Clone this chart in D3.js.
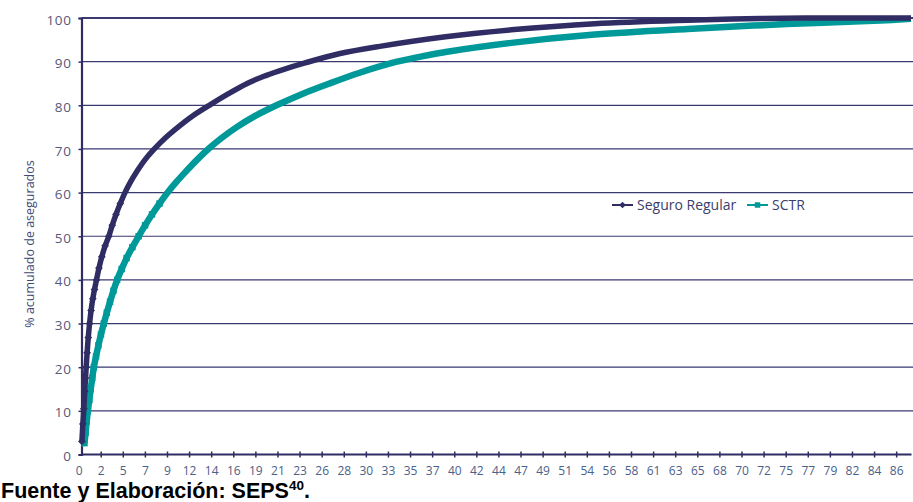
<!DOCTYPE html>
<html>
<head>
<meta charset="utf-8">
<script src="https://cdn.jsdelivr.net/npm/d3@7"></script>
<style>
  html, body { margin: 0; padding: 0; background: #fff; }
  svg { display: block; }
</style>
</head>
<body>
<svg id="chart" width="913" height="502"></svg>
<script>
// ---- data ----
const seriesNames = ["Seguro Regular", "SCTR"];
const seguroX = [0.35, 0.45, 0.55, 0.65, 0.73, 0.8, 0.9, 1.02, 1.16, 1.32, 1.5, 1.68, 1.89, 2.15, 2.45, 2.8, 3.19, 3.55, 3.95, 4.4, 4.9, 5.5, 6.2, 7.0, 8.0, 9.15, 10.5, 12.0, 13.8, 15.7, 17.8, 19.5, 21.2, 23.9, 27.5, 31.8, 38.75, 45.7, 54.5, 64.3, 72.0, 80.0, 87.9];
const seguroY = [3, 7, 10.5, 14.5, 17.5, 20, 23.3, 26.8, 30, 33, 35.7, 37.8, 40, 42.7, 45.3, 47.8, 50, 52.5, 55, 57.5, 60, 62.5, 65, 67.5, 70, 72.5, 75, 77.5, 80, 82.5, 85, 86.6, 87.9, 89.7, 91.8, 93.5, 95.7, 97.3, 98.7, 99.5, 99.9, 100, 100];
const sctrX = [0.62, 0.74, 0.85, 0.98, 1.13, 1.28, 1.44, 1.61, 1.84, 2.09, 2.36, 2.66, 2.98, 3.32, 3.68, 4.07, 4.55, 5.07, 5.68, 6.34, 7.02, 7.75, 8.55, 9.4, 10.35, 11.4, 12.5, 13.7, 15.1, 16.7, 18.6, 20.9, 23.5, 26.5, 29.6, 33.1, 36.0, 38.75, 45.7, 54.5, 64.3, 74.8, 85.3, 87.9];
const sctrY = [2.6, 5, 7.5, 10, 12.5, 15, 17.5, 20, 22.5, 25, 27.5, 30, 32.5, 35, 37.5, 40, 42.5, 45, 47.5, 50, 52.5, 55, 57.5, 60, 62.5, 65, 67.5, 70, 72.5, 75, 77.5, 80, 82.5, 85, 87.4, 89.7, 91.1, 92.2, 94.3, 96.2, 97.5, 98.6, 99.5, 99.8];
const xTickLabels = [0, 2, 5, 7, 9, 12, 14, 16, 19, 21, 23, 26, 28, 30, 33, 35, 37, 40, 42, 44, 47, 49, 51, 54, 56, 58, 61, 63, 65, 68, 70, 72, 75, 77, 79, 82, 84, 86];
const xTickStep = 7 / 3;
const yTicks = [0, 10, 20, 30, 40, 50, 60, 70, 80, 90, 100];
const yLabel = "% acumulado de asegurados";
const sourceText = "Fuente y Elaboración: SEPS";
const sourceSup = "40";

// ---- layout ----
const axisLeft = 81.5, plotRight = 913;
const colDark = "#2f2d63", colTeal = "#00999a", gridCol = "#3a3970";

const svg = d3.select("#chart");
const x = d3.scaleLinear().domain([0, 87.9]).range([78.6, 911]);
const y = d3.scaleLinear().domain([0, 100]).range([454.5, 18]);

// grid lines
svg.append("g").selectAll("line").data(yTicks.filter(d => d > 0)).join("line")
  .attr("x1", axisLeft).attr("x2", plotRight)
  .attr("y1", d => y(d)).attr("y2", d => y(d))
  .attr("stroke", gridCol)
  .attr("stroke-width", d => d === 100 ? 2 : 1.2);

// y axis
const yAxis = svg.append("g").attr("transform", `translate(${axisLeft},0)`)
  .call(d3.axisLeft(y).tickValues(yTicks).tickSize(3).tickPadding(7).tickFormat(d => d));
yAxis.select(".domain").attr("stroke", colDark).attr("stroke-width", 2.2);
yAxis.selectAll(".tick line").attr("stroke", colDark).attr("stroke-width", 1.5);
yAxis.selectAll(".tick text")
  .attr("font-family", "'Open Sans', sans-serif").attr("font-size", 13.5)
  .attr("fill", "#56597a").attr("letter-spacing", 0.6).attr("dy", "0.45em");

// x axis
const xTickVals = xTickLabels.map((d, i) => i * xTickStep);
const xAxis = svg.append("g").attr("transform", `translate(0,${y(0)})`)
  .call(d3.axisBottom(x).tickValues(xTickVals).tickSize(0).tickPadding(12)
    .tickFormat((d, i) => xTickLabels[i]));
xAxis.select(".domain").remove();
xAxis.append("line").attr("x1", axisLeft).attr("x2", 911.5).attr("y1", 0).attr("y2", 0)
  .attr("stroke", colDark).attr("stroke-width", 2.2);
xAxis.selectAll(".tick").filter((d, i) => i > 0).append("line")
  .attr("y1", -3).attr("y2", 3).attr("stroke", colDark).attr("stroke-width", 1.5);
xAxis.selectAll(".tick text")
  .attr("font-family", "'Open Sans', sans-serif").attr("font-size", 12)
  .attr("fill", "#4b6189");

// y label
svg.append("text")
  .attr("transform", `translate(34,244) rotate(-90)`)
  .attr("text-anchor", "middle")
  .attr("font-family", "'Open Sans', sans-serif").attr("font-size", 12.5)
  .attr("fill", "#3e4a74")
  .text(yLabel);

// series
const diamond = d3.symbol(d3.symbolSquare, 30)();
const square = d3.symbol(d3.symbolSquare, 42)();
const series = [
  { name: seriesNames[0], xs: seguroX, ys: seguroY, color: colDark, width: 5.5, marker: diamond, rot: 45 },
  { name: seriesNames[1], xs: sctrX, ys: sctrY, color: colTeal, width: 6.5, marker: square, rot: 0 }
];
const line = d3.line().x(d => x(d[0])).y(d => y(d[1])).curve(d3.curveCatmullRom.alpha(0.5));

series.slice().reverse().forEach(s => {
  const pts = s.xs.map((v, i) => [v, s.ys[i]]);
  const g = svg.append("g");
  g.append("path").datum(pts).attr("d", line)
    .attr("fill", "none").attr("stroke", s.color).attr("stroke-width", s.width)
    .attr("stroke-linejoin", "round");
  g.selectAll("path.m").data(pts.filter(p => p[1] < 60)).join("path").attr("class", "m")
    .attr("d", s.marker)
    .attr("transform", p => `translate(${x(p[0])},${y(p[1])}) rotate(${s.rot})`)
    .attr("fill", s.color);
});

// legend
const legend = svg.append("g");
const legItems = [
  { name: seriesNames[0], color: colDark, marker: d3.symbol(d3.symbolSquare, 22)(), rot: 45, x0: 612, tx: 637 },
  { name: seriesNames[1], color: colTeal, marker: d3.symbol(d3.symbolSquare, 30)(), rot: 0, x0: 747, tx: 772 }
];
legItems.forEach(li => {
  legend.append("line").attr("x1", li.x0).attr("x2", li.x0 + 21).attr("y1", 205).attr("y2", 205)
    .attr("stroke", li.color).attr("stroke-width", 2);
  legend.append("path").attr("d", li.marker)
    .attr("transform", `translate(${li.x0 + 10.5},205) rotate(${li.rot})`)
    .attr("fill", li.color);
  legend.append("text").attr("x", li.tx).attr("y", 210)
    .attr("font-family", "'Open Sans', sans-serif").attr("font-size", 14)
    .attr("fill", "#3a3e6c").text(li.name);
});

// source
const src = svg.append("text").attr("x", 1).attr("y", 498)
  .attr("font-family", "'Liberation Sans', Arial, sans-serif").attr("font-weight", "bold")
  .attr("font-size", 21.5).attr("fill", "#000");
src.append("tspan").text(sourceText);
src.append("tspan").attr("font-size", 13.5).attr("dy", -8).text(sourceSup);
src.append("tspan").attr("dy", 8).text(".");
</script>
</body>
</html>
